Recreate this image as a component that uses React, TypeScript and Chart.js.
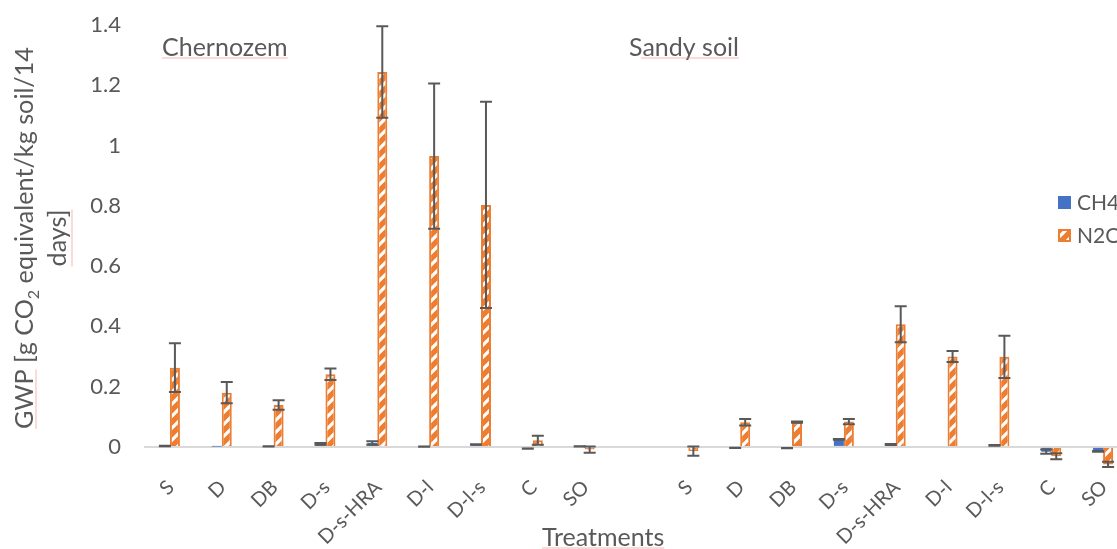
import React, { useEffect, useRef } from 'react';
import { Chart, registerables } from 'chart.js';

Chart.register(...registerables);

// ---------- data ----------
const CATEGORIES = ['S', 'D', 'DB', 'D-s', 'D-s-HRA', 'D-l', 'D-l-s', 'C', 'SO', '', 'S', 'D', 'DB', 'D-s', 'D-s-HRA', 'D-l', 'D-l-s', 'C', 'SO'];
const SERIES_NAMES = ['CH4', 'N2O'];
const CH4_VALUES = [0.003, 0.001, 0.002, 0.010, 0.013, 0.001, 0.008, -0.006, 0.002, null, 0, -0.003, -0.004, 0.025, 0.008, 0, 0.005, -0.016, -0.015];
const CH4_ERRORS = [0.0005, null, 0.0005, 0.003, 0.006, 0.0005, 0.001, 0.0005, 0.0005, null, null, 0.0005, 0.0005, 0.001, 0.002, null, 0.001, 0.007, 0.001];
const N2O_VALUES = [0.263, 0.180, 0.139, 0.241, 1.244, 0.965, 0.803, 0.022, -0.009, null, -0.014, 0.082, 0.082, 0.084, 0.407, 0.300, 0.299, -0.031, -0.058];
const N2O_ERRORS = [0.081, 0.035, 0.016, 0.019, 0.152, 0.241, 0.342, 0.015, 0.010, null, 0.015, 0.011, 0.002, 0.009, 0.060, 0.018, 0.070, 0.010, 0.009];
const Y_TICKS = [0, 0.2, 0.4, 0.6, 0.8, 1, 1.2, 1.4];
const Y_TICK_LABELS = ['0', '0.2', '0.4', '0.6', '0.8', '1', '1.2', '1.4'];
const GROUP_LABELS = ['Chernozem', 'Sandy soil'];
const X_TITLE = 'Treatments';
const Y_TITLE_PARTS = ['GWP [g CO', '2', ' equivalent/kg soil/14'];
const Y_TITLE_LINE2 = 'days]';

// ---------- style ----------
const FONT = 'Lato';
const TEXT = '#595959';
const BLUE = '#4472C4';
const ORANGE = '#ED7D31';
const ERR = '#595959';
const SPELL = 'rgba(240,120,120,0.55)';

function makePattern(ctx: CanvasRenderingContext2D) {
  const s = 12;
  const c = document.createElement('canvas');
  c.width = s;
  c.height = s;
  const g = c.getContext('2d')!;
  g.fillStyle = ORANGE;
  g.fillRect(0, 0, s, s);
  g.strokeStyle = '#ffffff';
  g.lineWidth = 3.2;
  g.beginPath();
  g.moveTo(-3, s + 3);
  g.lineTo(s + 3, -3);
  g.moveTo(-3, 3);
  g.lineTo(3, -3);
  g.moveTo(s - 3, s + 3);
  g.lineTo(s + 3, s - 3);
  g.stroke();
  return ctx.createPattern(c, 'repeat')!;
}

function underline(ctx: CanvasRenderingContext2D, x1: number, y1: number, x2: number, y2: number) {
  ctx.save();
  ctx.strokeStyle = SPELL;
  ctx.lineWidth = 1;
  ctx.beginPath();
  ctx.moveTo(x1, y1);
  ctx.lineTo(x2, y2);
  ctx.stroke();
  ctx.restore();
}

const overlayPlugin = {
  id: 'overlay',
  afterDatasetsDraw(chart: any) {
    const { ctx } = chart;
    const ys = chart.scales.y;
    chart.data.datasets.forEach((ds: any, i: number) => {
      const meta = chart.getDatasetMeta(i);
      meta.data.forEach((bar: any, j: number) => {
        const v = ds.data[j];
        const e = ds.errors[j];
        if (v == null || e == null) return;
        const x = bar.x;
        const yt = ys.getPixelForValue(v + e);
        const yb = ys.getPixelForValue(v - e);
        ctx.save();
        ctx.strokeStyle = ERR;
        ctx.lineWidth = 2;
        ctx.beginPath();
        ctx.moveTo(x, yt);
        ctx.lineTo(x, yb);
        ctx.moveTo(x - 6, yt);
        ctx.lineTo(x + 6, yt);
        ctx.moveTo(x - 6, yb);
        ctx.lineTo(x + 6, yb);
        ctx.stroke();
        ctx.restore();
      });
    });
  },
  afterDraw(chart: any) {
    const { ctx } = chart;
    const xs = chart.scales.x;
    const pattern = chart.data.datasets[1].backgroundColor;
    ctx.save();
    ctx.fillStyle = TEXT;

    // rotated category labels
    ctx.font = `20px ${FONT}`;
    ctx.textAlign = 'right';
    ctx.textBaseline = 'middle';
    chart.data.labels.forEach((lab: string, i: number) => {
      if (!lab) return;
      const px = xs.getPixelForValue(i);
      ctx.save();
      ctx.translate(px + 1, xs.top + 16);
      ctx.rotate(-Math.PI / 4);
      ctx.fillText(lab, 0, 0);
      ctx.restore();
    });

    ctx.textBaseline = 'alphabetic';
    ctx.textAlign = 'left';

    // group labels
    ctx.font = `25px ${FONT}`;
    const g0 = ctx.measureText(GROUP_LABELS[0]).width;
    ctx.fillText(GROUP_LABELS[0], 162, 56);
    underline(ctx, 162, 58, 162 + g0, 58);
    const g1 = ctx.measureText(GROUP_LABELS[1]).width;
    ctx.fillText(GROUP_LABELS[1], 629, 56);
    underline(ctx, 629 + 12, 58, 629 + g1, 58);

    // x title
    ctx.font = `25px ${FONT}`;
    const tw = ctx.measureText(X_TITLE).width;
    ctx.fillText(X_TITLE, 542, 546);
    underline(ctx, 542, 548, 542 + tw, 548);

    // y title
    const big = `25.2px ${FONT}`;
    const small = `16px ${FONT}`;
    ctx.font = big;
    const w0 = ctx.measureText(Y_TITLE_PARTS[0]).width;
    const w2 = ctx.measureText(Y_TITLE_PARTS[2]).width;
    ctx.font = small;
    const w1 = ctx.measureText(Y_TITLE_PARTS[1]).width;
    const total = w0 + w1 + w2;
    const cy = 238;
    ctx.save();
    ctx.translate(33, cy);
    ctx.rotate(-Math.PI / 2);
    let xx = -total / 2;
    ctx.font = big;
    ctx.fillText(Y_TITLE_PARTS[0], xx, 0);
    const gwpW = ctx.measureText('GWP').width;
    xx += w0;
    ctx.font = small;
    ctx.fillText(Y_TITLE_PARTS[1], xx, 6);
    xx += w1;
    ctx.font = big;
    ctx.fillText(Y_TITLE_PARTS[2], xx, 0);
    underline(ctx, -total / 2, 3, -total / 2 + gwpW, 3);
    ctx.restore();

    ctx.save();
    ctx.translate(66, cy);
    ctx.rotate(-Math.PI / 2);
    ctx.font = big;
    const dw = ctx.measureText(Y_TITLE_LINE2).width;
    ctx.fillText(Y_TITLE_LINE2, -dw / 2, 0);
    underline(ctx, -dw / 2, 6, dw / 2, 6);
    ctx.restore();

    // legend
    ctx.font = `21px ${FONT}`;
    ctx.textBaseline = 'middle';
    ctx.fillStyle = BLUE;
    ctx.fillRect(1058, 196, 13, 13);
    ctx.fillStyle = TEXT;
    ctx.fillText(SERIES_NAMES[0], 1077, 203);
    ctx.fillStyle = pattern;
    ctx.fillRect(1058, 229, 13, 13);
    ctx.strokeStyle = ORANGE;
    ctx.lineWidth = 2;
    ctx.strokeRect(1059, 230, 11, 11);
    ctx.fillStyle = TEXT;
    ctx.fillText(SERIES_NAMES[1], 1077, 236);
    ctx.restore();
  },
};

export default function App() {
  const ref = useRef<HTMLCanvasElement>(null);
  useEffect(() => {
    const canvas = ref.current!;
    const ctx = canvas.getContext('2d')!;
    const pattern = makePattern(ctx);
    const chart = new Chart(ctx, {
      type: 'bar',
      data: {
        labels: CATEGORIES,
        datasets: [
          { label: SERIES_NAMES[0], data: CH4_VALUES, backgroundColor: BLUE, borderWidth: 0, errors: CH4_ERRORS } as any,
          { label: SERIES_NAMES[1], data: N2O_VALUES, backgroundColor: pattern, borderColor: ORANGE, borderWidth: 2, errors: N2O_ERRORS } as any,
        ],
      },
      options: {
        responsive: false,
        animation: false,
        layout: { padding: { top: 25, right: 6, left: 0, bottom: 0 } },
        datasets: { bar: { categoryPercentage: 0.386, barPercentage: 1 } },
        plugins: { legend: { display: false }, tooltip: { enabled: false } },
        scales: {
          x: {
            grid: { display: false, drawTicks: false },
            border: { display: false },
            ticks: { display: false, autoSkip: false },
            afterFit: (s: any) => {
              s.height = 81;
            },
          },
          y: {
            min: -0.07,
            max: 1.4,
            afterBuildTicks: (s: any) => {
              s.ticks = Y_TICKS.map((v) => ({ value: v }));
            },
            afterFit: (s: any) => {
              s.width = 144;
            },
            grid: {
              drawTicks: true,
              tickLength: 13,
              tickColor: 'rgba(0,0,0,0)',
              color: (c: any) => (c.tick && c.tick.value === 0 ? '#d9d9d9' : 'rgba(0,0,0,0)'),
              lineWidth: 2,
            },
            border: { display: false },
            ticks: {
              padding: 10,
              color: TEXT,
              font: { family: FONT, size: 22 },
              callback: (_v: any, i: number) => Y_TICK_LABELS[i],
            },
          },
        },
      } as any,
      plugins: [overlayPlugin],
    });
    return () => chart.destroy();
  }, []);

  return (
    <div style={{ position: 'fixed', left: 0, top: 0, width: 1117, height: 549, overflow: 'hidden', background: '#ffffff' }}>
      <canvas ref={ref} width={1135} height={549} style={{ display: 'block' }} />
    </div>
  );
}
